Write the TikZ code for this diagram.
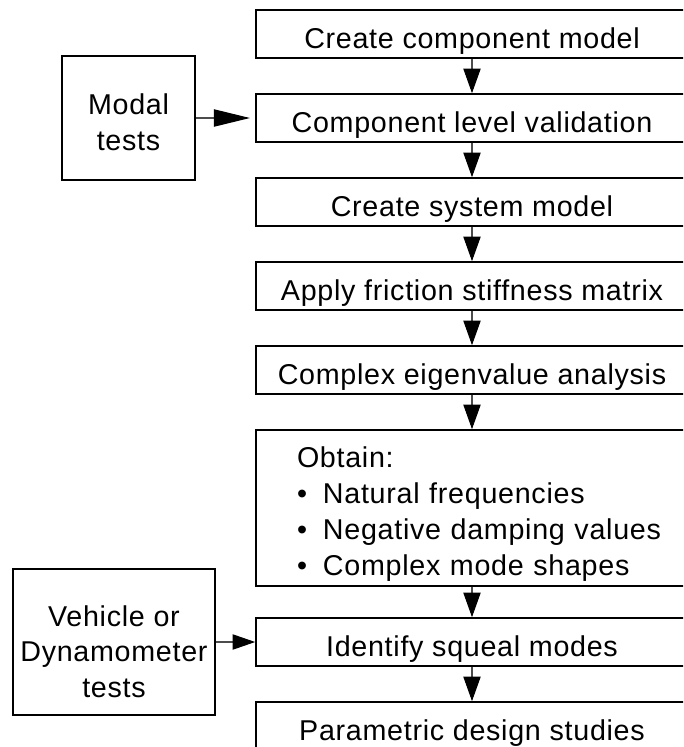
\documentclass[tikz,border=0pt]{standalone}
\usepackage{fontspec}
\setmainfont{Liberation Sans}[LetterSpace=2.5]
\usetikzlibrary{arrows.meta}
\tikzset{
  boxbase/.style={draw, line width=1.2pt, inner sep=0pt},
  stepbox/.style={boxbase, minimum width=324pt, minimum height=36pt, text height=21pt, text depth=0pt, font=\fontsize{21.5}{27}\selectfont},
  testbox/.style={boxbase, align=center, font=\fontsize{21.5}{26.5}\selectfont},
  flow/.style={draw=black!70, line width=0.8pt, -{Triangle[length=18.5pt, width=13pt, color=black]}}
}
\newcommand{\bulletline}[1]{\mbox{\makebox[19.5pt][l]{\textbullet}#1}}
\begin{document}
\begin{tikzpicture}[x=0.75pt, y=-0.75pt]
  \useasboundingbox (0,0) rectangle (683,747);
  \clip (0,0) rectangle (683,747);
  \node[stepbox] (comp)   at (472,34)  {Create component model};
  \node[stepbox] (valid)  at (472,118) {Component level validation};
  \node[stepbox] (sys)    at (472,202) {Create system model};
  \node[stepbox] (fric)   at (472,286) {Apply friction stiffness matrix};
  \node[stepbox] (eigen)  at (472,370) {Complex eigenvalue analysis};
  \node[boxbase, minimum width=324pt, minimum height=117pt, text width=262.5pt, align=left,
        font=\fontsize{21.5}{27}\selectfont] (obtain) at (472,508)
    {\rule{0pt}{24pt}Obtain:\\
     \bulletline{Natural frequencies}\\
     \bulletline{Negative damping values}\\
     \bulletline{Complex mode shapes}};
  \node[stepbox] (squeal) at (472,642) {Identify squeal modes};
  \node[stepbox] (param)  at (472,726) {Parametric design studies};
  \node[testbox, minimum width=99.75pt, minimum height=93pt] (modal) at (128.5,118)
    {\rule{0pt}{21.75pt}Modal\\tests};
  \node[testbox, minimum width=151.5pt, minimum height=109.5pt] (vehicle) at (114,642)
    {\rule{0pt}{30pt}Vehicle or\\Dynamometer\\tests};
  \draw[flow] (comp) -- (valid);
  \draw[flow] (valid) -- (sys);
  \draw[flow] (sys) -- (fric);
  \draw[flow] (fric) -- (eigen);
  \draw[flow] (eigen) -- (obtain);
  \draw[flow] (obtain) -- (squeal);
  \draw[flow] (squeal) -- (param);
  \draw[flow, -{Triangle[length=27pt, width=13pt, color=black]}, shorten >=4pt] (modal) -- (valid);
  \draw[flow, -{Triangle[length=17pt, width=11.5pt, color=black]}] (vehicle) -- (squeal);
\end{tikzpicture}
\end{document}
